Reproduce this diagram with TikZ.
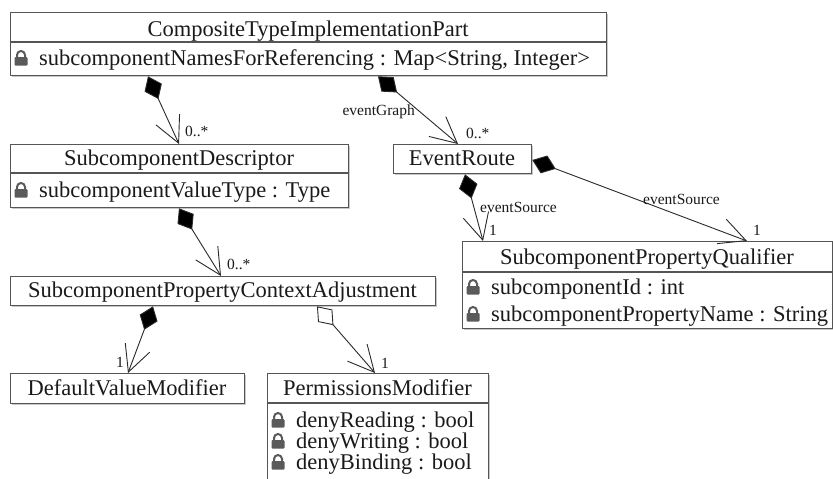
\documentclass[tikz,border=0pt]{standalone}
\usepackage{fontspec}
\setmainfont{Liberation Serif}
\usetikzlibrary{arrows.meta,calc,shadows}
\definecolor{boxc}{HTML}{555555}
\definecolor{linec}{HTML}{2A2A2A}
\definecolor{txtc}{HTML}{1A1A1A}
\definecolor{lockc}{HTML}{5A5A5A}
\begin{document}
\begin{tikzpicture}[x=1pt,y=-1pt,
  umlbox/.style={draw=boxc, line width=1.3pt, fill=white, inner sep=0pt, anchor=north west,
    drop shadow={shadow xshift=1.3pt, shadow yshift=-1.3pt, fill=black!30, opacity=0.7}},
  divider/.style={draw=boxc, line width=1.3pt},
  nm/.style={anchor=base, inner sep=0pt, text=txtc, font=\fontsize{22.5}{24}\selectfont},
  attr/.style={anchor=base west, inner sep=0pt, text=txtc, font=\fontsize{22.5}{24}\selectfont},
  lbl/.style={inner sep=0pt, text=txtc, font=\fontsize{15.5}{17}\selectfont},
  comp/.style={draw=linec, line width=0.9pt, {Diamond[length=25pt,width=19pt,fill=black]}-{Straight Barb[length=26pt,width=26pt]}},
  aggr/.style={draw=linec, line width=0.9pt, {Diamond[open,length=25pt,width=19pt,fill=white]}-{Straight Barb[length=26pt,width=26pt]}},
  lock/.pic={
    \fill[lockc, rounded corners=1pt] (-6.5,0.5) rectangle (6.5,-8);
    \draw[lockc, line width=2pt] (-4,-7.5) -- (-4,-10) arc[start angle=180, end angle=360, radius=4] -- (4,-7.5);
  }]
\fill[white] (0,0) rectangle (833,479);
\useasboundingbox (0,0) rectangle (833,479);
\clip (0,0) rectangle (833,479);

% ---- boxes ----
\node[umlbox, minimum width=596pt, minimum height=63pt] (ctip) at (10,12) {};
\node[umlbox, minimum width=338pt, minimum height=63pt] (sd) at (10,144) {};
\node[umlbox, minimum width=138pt, minimum height=29pt] (er) at (393,144) {};
\node[umlbox, minimum width=425pt, minimum height=29pt] (spca) at (10,276) {};
\node[umlbox, minimum width=234pt, minimum height=30pt] (dvm) at (10,373) {};
\node[umlbox, minimum width=221pt, minimum height=125pt] (pm) at (267,373) {};
\node[umlbox, minimum width=369.5pt, minimum height=87pt] (spq) at (462,241) {};

\draw[divider] (10,42) -- (606,42);
\draw[divider] (10,173) -- (348,173);
\draw[divider] (462,272) -- (831.5,272);
\draw[divider] (267,403) -- (488,403);

% ---- names ----
\node[nm] (ctipn) at (308,36) {CompositeTypeImplementationPart};
\node[nm] (sdn) at (179,165) {SubcomponentDescriptor};
\node[nm] (ern) at (462,165) {EventRoute};
\node[nm] (spcan) at (222.5,297) {SubcomponentPropertyContextAdjustment};
\node[nm] (dvmn) at (127,395) {DefaultValueModifier};
\node[nm] (pmn) at (377.5,395) {PermissionsModifier};
\node[nm] (spqn) at (647,264) {SubcomponentPropertyQualifier};

% ---- attributes ----
\pic at (21,65) {lock};
\node[attr] (ctipa) at (39,65) {subcomponentNamesForReferencing : Map<String, Integer>};
\pic at (21,197) {lock};
\node[attr] (sda) at (39,197) {subcomponentValueType : Type};
\pic at (473,294) {lock};
\node[attr] (spqa1) at (491,294) {subcomponentId : int};
\pic at (473,321) {lock};
\node[attr] (spqa2) at (491,321) {subcomponentPropertyName : String};
\pic at (278,427) {lock};
\node[attr] (pma1) at (296,427) {denyReading : bool};
\pic at (278,448) {lock};
\node[attr] (pma2) at (296,448) {denyWriting : bool};
\pic at (278,469) {lock};
\node[attr] (pma3) at (296,469) {denyBinding : bool};

% ---- connector ends ----
\coordinate (c1s) at ($(ctip.south west)+(138,0)$);
\coordinate (c1e) at ($(sd.north west)+(169,0)$);
\coordinate (c2s) at ($(ctip.south west)+(368,0)$);
\coordinate (c2e) at ($(er.north west)+(65,0)$);
\coordinate (c3s) at ($(sd.south west)+(169,0)$);
\coordinate (c3e) at ($(spca.north west)+(211,0)$);
\coordinate (c4s) at ($(er.south west)+(72,0)$);
\coordinate (c4e) at ($(spq.north west)+(21,0)$);
\coordinate (c5s) at ($(er.north east)+(0,16)$);
\coordinate (c5e) at ($(spq.north west)+(285,0)$);
\coordinate (c6s) at ($(spca.south west)+(143,0)$);
\coordinate (c6e) at ($(dvm.north west)+(118,0)$);
\coordinate (c7s) at ($(spca.south west)+(307,0)$);
\coordinate (c7e) at ($(pm.north west)+(108,0)$);

\draw[comp] (c1s) -- (c1e);
\draw[comp] (c2s) -- (c2e);
\draw[comp] (c3s) -- (c3e);
\draw[comp] (c4s) -- (c4e);
\draw[comp] (c5s) -- (c5e);
\draw[comp] (c6s) -- (c6e);
\draw[aggr] (c7s) -- (c7e);

% ---- labels ----
\node[lbl, anchor=base west] (m1) at (185,136) {0..*};
\node[lbl, anchor=base east] (r2) at (415,115) {eventGraph};
\node[lbl, anchor=base west] (m2) at (466,138) {0..*};
\node[lbl, anchor=base west] (m3) at (227,269) {0..*};
\node[lbl, anchor=base west] (r4) at (480,212) {eventSource};
\node[lbl, anchor=base west] (m4) at (489,235) {1};
\node[lbl, anchor=base west] (r5) at (643,204) {eventSource};
\node[lbl, anchor=base west] (m5) at (753,235) {1};
\node[lbl, anchor=base east] (m6) at (124,367) {1};
\node[lbl, anchor=base west] (m7) at (381,368) {1};
\end{tikzpicture}
\end{document}
